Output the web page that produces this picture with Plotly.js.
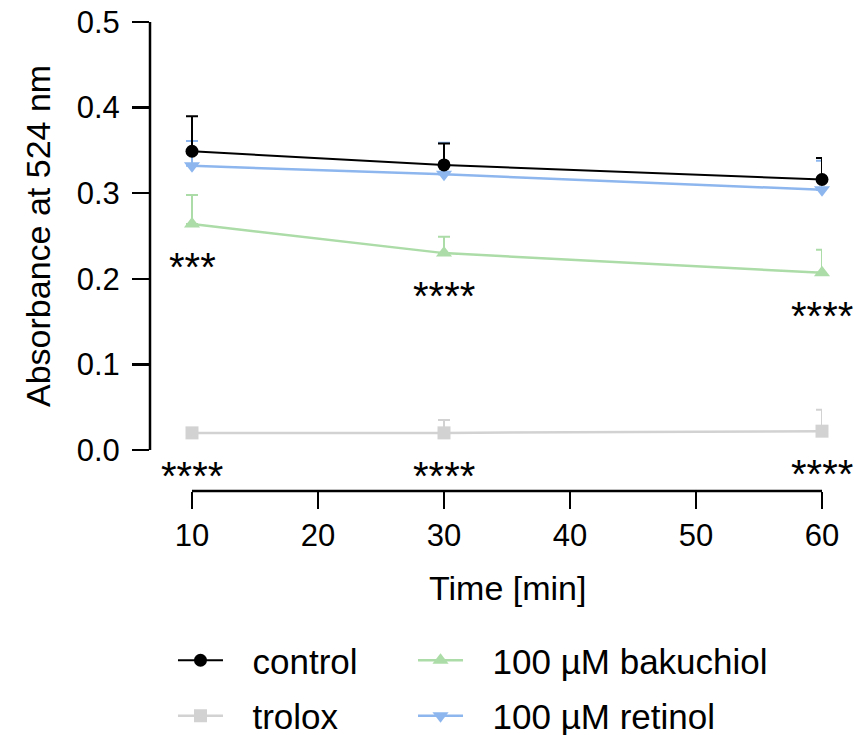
<!DOCTYPE html>
<html>
<head>
<meta charset="utf-8">
<script src="https://cdn.plot.ly/plotly-3.0.1.min.js"></script>
<style>html,body{margin:0;padding:0;background:#fff;}#chart{width:859px;height:735px;}</style>
</head>
<body>
<div id="chart"></div>
<script>
// ---- data ----
const timeMin = [10, 30, 60];
const controlMean = [0.349, 0.333, 0.316];
const controlErr = [0.041, 0.025, 0.025];
const troloxMean = [0.020, 0.020, 0.022];
const troloxErr = [0.003, 0.015, 0.025];
const bakuchiolMean = [0.264, 0.230, 0.207];
const bakuchiolErr = [0.034, 0.019, 0.027];
const retinolMean = [0.332, 0.322, 0.304];
const retinolErr = [0.029, 0.037, 0.034];
const bakuchiolSig = ['***', '****', '****'];
const troloxSig = ['****', '****', '****'];
const xTicks = [10, 20, 30, 40, 50, 60];
const yTicks = [0.0, 0.1, 0.2, 0.3, 0.4, 0.5];
const seriesNames = ['control', 'trolox', '100 µM bakuchiol', '100 µM retinol'];

const FONT = 'Liberation Sans, Arial, sans-serif';
const zeros = timeMin.map(() => 0);
const PAD = '\u2002\u2009'; // gap between legend symbol and its label

function series(name, y, err, color, symbol, size, lw, legend, rank) {
  return {
    type: 'scatter', mode: 'lines+markers', name: PAD + name,
    x: timeMin, y: y,
    line: {color: color, width: lw},
    marker: {color: color, symbol: symbol, size: size},
    error_y: {type: 'data', symmetric: false, array: err, arrayminus: zeros,
              color: color, thickness: 2, width: 6},
    cliponaxis: false,
    legend: legend, legendrank: rank, legendgroup: name
  };
}

const traces = [
  series(seriesNames[1], troloxMean, troloxErr, '#d2d2d2', 'square', 13, 2.5, 'legend', 2),
  series(seriesNames[2], bakuchiolMean, bakuchiolErr, '#acdca7', 'triangle-up', 14, 2.5, 'legend2', 1),
  series(seriesNames[3], retinolMean, retinolErr, '#8db6ee', 'triangle-down', 14, 2.5, 'legend2', 2),
  series(seriesNames[0], controlMean, controlErr, '#000000', 'circle', 13, 2, 'legend', 1)
];

const annotations = [];
timeMin.forEach((t, i) => {
  annotations.push({x: t, y: bakuchiolMean[i], xref: 'x', yref: 'y', text: bakuchiolSig[i],
    showarrow: false, yshift: -43, font: {family: FONT, size: 40, color: '#000'}});
  annotations.push({x: t, y: troloxMean[i], xref: 'x', yref: 'y', text: troloxSig[i],
    showarrow: false, yshift: -43, font: {family: FONT, size: 40, color: '#000'}});
});
annotations.push({x: -0.1667, y: 0.25, xref: 'paper', yref: 'y', text: 'Absorbance at 524 nm',
  textangle: -90, showarrow: false, xanchor: 'center', yanchor: 'middle',
  font: {family: FONT, size: 34, color: '#000'}});
annotations.push({x: 35, y: -0.2068, xref: 'x', yref: 'paper', text: 'Time [min]',
  showarrow: false, xanchor: 'center', yanchor: 'middle',
  font: {family: FONT, size: 34, color: '#000'}});

const layout = {
  width: 859, height: 735,
  margin: {l: 150, r: 37, t: 22, b: 244, autoexpand: false},
  paper_bgcolor: '#fff', plot_bgcolor: '#fff',
  font: {family: FONT, color: '#000'},
  xaxis: {range: [6.667, 60], tickvals: xTicks, ticktext: xTicks.map(String),
          showgrid: false, zeroline: false, showline: false, automargin: false,
          ticks: 'outside', ticklen: 17, tickwidth: 2.5, tickcolor: '#000',
          tickfont: {family: FONT, size: 31, color: '#000'}},
  yaxis: {range: [-0.0479, 0.5], tickvals: yTicks, ticktext: yTicks.map(v => v.toFixed(1)),
          showgrid: false, zeroline: false, showline: false, automargin: false,
          ticks: 'outside', ticklen: 17, tickwidth: 2.5, tickcolor: '#000', ticklabelstandoff: 6,
          tickfont: {family: FONT, size: 31, color: '#000'}},
  shapes: [
    {type: 'line', xref: 'paper', yref: 'y', x0: 0, x1: 0, y0: yTicks[0], y1: yTicks[yTicks.length-1],
     line: {color: '#000', width: 2.5}},
    {type: 'line', xref: 'x', yref: 'paper', x0: xTicks[0], x1: xTicks[xTicks.length-1], y0: 0, y1: 0,
     line: {color: '#000', width: 2.5}}
  ],
  annotations: annotations,
  showlegend: true,
  legend: {x: 0.0342, y: -0.2985, xanchor: 'left', yanchor: 'top', orientation: 'v', itemwidth: 45,
           font: {family: FONT, size: 35, color: '#000'}, tracegroupgap: 7,
           bgcolor: 'rgba(0,0,0,0)'},
  legend2: {x: 0.3914, y: -0.2985, xanchor: 'left', yanchor: 'top', orientation: 'v', itemwidth: 45,
           font: {family: FONT, size: 35, color: '#000'}, tracegroupgap: 7,
           bgcolor: 'rgba(0,0,0,0)'}
};

Plotly.newPlot('chart', traces, layout, {displayModeBar: false, staticPlot: true});
</script>
</body>
</html>
